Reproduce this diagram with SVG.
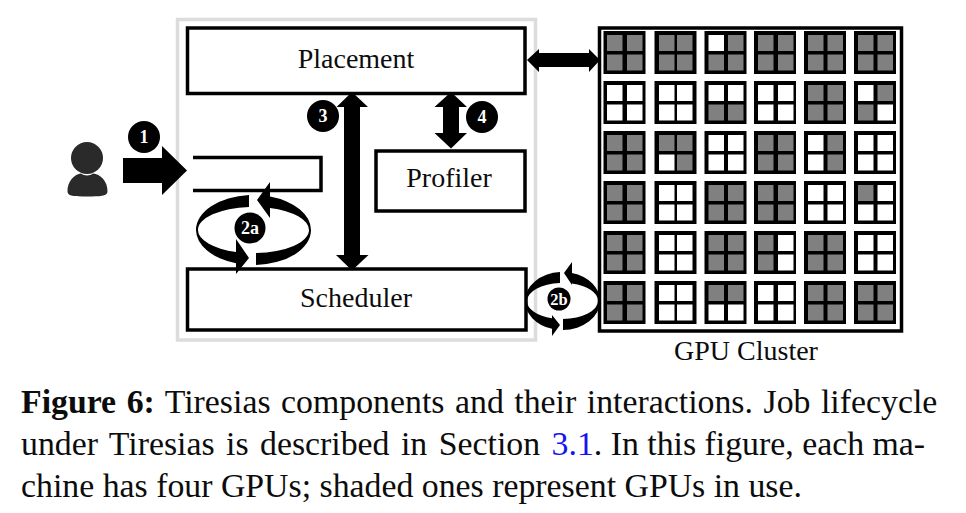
<svg xmlns="http://www.w3.org/2000/svg" width="966" height="513" viewBox="0 0 966 513">
<style>
text{font-family:"Liberation Serif","Times New Roman",serif;fill:#0c0c0c}
.box{fill:#fff;stroke:#000;stroke-width:3.5}
.lbl{font-size:28px;text-anchor:middle}
.cap{font-size:33.8px}
.bt{font-size:18px;font-weight:bold;fill:#fff;text-anchor:middle}
</style>
<defs>
<rect id="b" width="42" height="43" fill="#000"/>
<rect id="G" width="15.500" height="16" fill="#808080"/>
<rect id="W" width="15.500" height="16" fill="#fff"/>
</defs>
<rect width="966" height="513" fill="#fff"/>
<rect x="177.500" y="19.500" width="358" height="320.500" fill="#fff" stroke="#dcdcdc" stroke-width="3.500"/>
<g id="placement"><rect class="box" x="187.500" y="28" width="337.500" height="65.500"/><text class="lbl" x="356" y="68">Placement</text></g>
<g id="profiler"><rect class="box" x="376" y="151" width="149" height="60"/><text class="lbl" x="449" y="187">Profiler</text></g>
<g id="scheduler"><rect class="box" x="187.500" y="269" width="338.500" height="61"/><text class="lbl" x="356" y="307">Scheduler</text></g>
<g id="queue"><path d="M193,157.500H321V190.500H193" fill="none" stroke="#000" stroke-width="3.500"/></g>
<g id="user" fill="#2a2a2a"><circle cx="87" cy="158" r="16"/><path d="M67.500,192C67,181 75,174 81,173.500C84,176 90,176 93,173.500C100,174 108,181 107.500,192C107,196 100,196.500 87,196.500C74,196.500 68,196 67.500,192Z"/></g>
<g id="connectors" fill="#000">
<path d="M123,158H162V146L187,170.500L162,195V183H123Z"/>
<path d="M352,92L368,107H360V255H368.500L352,270.500L336,255H344V107H336.500Z"/>
<path d="M451,92L467,107H459V133H467L451,148.500L434.500,133H443V107H434.500Z"/>
<path d="M527,60L539,49V53H589V49L600,60L589,72V67H539V72Z"/>
<path d="M249,195A58,35 0 0 0 196,230A58,35 0 0 0 236,263.300L236,274L249,258L236,239L236,252A55.500,23 0 0 1 198,230A55.500,23 0 0 1 249,207Z"/>
<path d="M256,265A58,35 0 0 0 311,230A58,35 0 0 0 270,196.500L270,182L257,200L270,218L270,208A55.500,23 0 0 1 309,230A55.500,23 0 0 1 256,253Z"/>
<path d="M560,272A37.500,29 0 0 0 525,301A37.500,29 0 0 0 552,328.800L552,336L560,325L552,315L552,318.300A36,18 0 0 1 527,301A36,18 0 0 1 560,283Z"/>
<path d="M563,330A37.500,29 0 0 0 600,301A37.500,29 0 0 0 572,273L572,262L564,273L572,285L572,283.600A36,18 0 0 1 598,301A36,18 0 0 1 563,319Z"/>
</g>
<g id="badge-1"><circle cx="144" cy="137" r="16"/><text class="bt" x="144" y="143">1</text></g>
<g id="badge-3"><circle cx="323" cy="116" r="16"/><text class="bt" x="323" y="122">3</text></g>
<g id="badge-4"><circle cx="482" cy="117" r="16"/><text class="bt" x="482" y="123">4</text></g>
<g id="badge-2a"><circle cx="250" cy="228" r="15.500"/><text class="bt" x="250" y="234">2a</text></g>
<g id="badge-2b"><circle cx="559" cy="299" r="11.500"/><text class="bt" x="559" y="304.500" style="font-size:16.500px">2b</text></g>
<g id="gpu-cluster">
<rect x="599.500" y="28" width="302" height="303" fill="#fff" stroke="#000" stroke-width="3.500"/>
<g id="row-1" transform="translate(0,31)">
<g transform="translate(603.500,0)"><use href="#b"/><use href="#G" x="3.500" y="4"/><use href="#G" x="23.500" y="4"/><use href="#G" x="3.500" y="23.500"/><use href="#G" x="23.500" y="23.500"/></g>
<g transform="translate(654.500,0)"><use href="#b"/><use href="#G" x="4.500" y="4"/><use href="#G" x="22.500" y="4"/><use href="#G" x="4.500" y="23.500"/><use href="#G" x="22.500" y="23.500"/></g>
<g transform="translate(704.500,0)"><use href="#b"/><use href="#W" x="4" y="4"/><use href="#G" x="23.500" y="4"/><use href="#G" x="4" y="23.500"/><use href="#G" x="23.500" y="23.500"/></g>
<g transform="translate(754,0)"><use href="#b"/><use href="#G" x="4" y="4"/><use href="#G" x="24" y="4"/><use href="#G" x="4" y="23.500"/><use href="#G" x="24" y="23.500"/></g>
<g transform="translate(804,0)"><use href="#b"/><use href="#G" x="4" y="4"/><use href="#G" x="23.500" y="4"/><use href="#G" x="4" y="23.500"/><use href="#G" x="23.500" y="23.500"/></g>
<g transform="translate(854,0)"><use href="#b"/><use href="#G" x="4" y="4"/><use href="#G" x="23.500" y="4"/><use href="#G" x="4" y="23.500"/><use href="#G" x="23.500" y="23.500"/></g>
</g>
<g id="row-2" transform="translate(0,81)">
<g transform="translate(603.500,0)"><use href="#b"/><use href="#W" x="3.500" y="4"/><use href="#W" x="23.500" y="4"/><use href="#W" x="3.500" y="23.500"/><use href="#W" x="23.500" y="23.500"/></g>
<g transform="translate(654.500,0)"><use href="#b"/><use href="#W" x="4.500" y="4"/><use href="#W" x="22.500" y="4"/><use href="#W" x="4.500" y="23.500"/><use href="#W" x="22.500" y="23.500"/></g>
<g transform="translate(704.500,0)"><use href="#b"/><use href="#W" x="4" y="4"/><use href="#W" x="23.500" y="4"/><use href="#G" x="4" y="23.500"/><use href="#G" x="23.500" y="23.500"/></g>
<g transform="translate(754,0)"><use href="#b"/><use href="#W" x="4" y="4"/><use href="#W" x="24" y="4"/><use href="#W" x="4" y="23.500"/><use href="#W" x="24" y="23.500"/></g>
<g transform="translate(804,0)"><use href="#b"/><use href="#G" x="4" y="4"/><use href="#G" x="23.500" y="4"/><use href="#G" x="4" y="23.500"/><use href="#G" x="23.500" y="23.500"/></g>
<g transform="translate(854,0)"><use href="#b"/><use href="#W" x="4" y="4"/><use href="#G" x="23.500" y="4"/><use href="#G" x="4" y="23.500"/><use href="#W" x="23.500" y="23.500"/></g>
</g>
<g id="row-3" transform="translate(0,131)">
<g transform="translate(603.500,0)"><use href="#b"/><use href="#G" x="3.500" y="4"/><use href="#G" x="23.500" y="4"/><use href="#G" x="3.500" y="23.500"/><use href="#G" x="23.500" y="23.500"/></g>
<g transform="translate(654.500,0)"><use href="#b"/><use href="#G" x="4.500" y="4"/><use href="#G" x="22.500" y="4"/><use href="#W" x="4.500" y="23.500"/><use href="#G" x="22.500" y="23.500"/></g>
<g transform="translate(704.500,0)"><use href="#b"/><use href="#W" x="4" y="4"/><use href="#W" x="23.500" y="4"/><use href="#W" x="4" y="23.500"/><use href="#W" x="23.500" y="23.500"/></g>
<g transform="translate(754,0)"><use href="#b"/><use href="#G" x="4" y="4"/><use href="#G" x="24" y="4"/><use href="#G" x="4" y="23.500"/><use href="#G" x="24" y="23.500"/></g>
<g transform="translate(804,0)"><use href="#b"/><use href="#W" x="4" y="4"/><use href="#G" x="23.500" y="4"/><use href="#W" x="4" y="23.500"/><use href="#G" x="23.500" y="23.500"/></g>
<g transform="translate(854,0)"><use href="#b"/><use href="#W" x="4" y="4"/><use href="#W" x="23.500" y="4"/><use href="#W" x="4" y="23.500"/><use href="#W" x="23.500" y="23.500"/></g>
</g>
<g id="row-4" transform="translate(0,181)">
<g transform="translate(603.500,0)"><use href="#b"/><use href="#G" x="3.500" y="4"/><use href="#G" x="23.500" y="4"/><use href="#G" x="3.500" y="23.500"/><use href="#G" x="23.500" y="23.500"/></g>
<g transform="translate(654.500,0)"><use href="#b"/><use href="#W" x="4.500" y="4"/><use href="#W" x="22.500" y="4"/><use href="#W" x="4.500" y="23.500"/><use href="#W" x="22.500" y="23.500"/></g>
<g transform="translate(704.500,0)"><use href="#b"/><use href="#G" x="4" y="4"/><use href="#G" x="23.500" y="4"/><use href="#G" x="4" y="23.500"/><use href="#G" x="23.500" y="23.500"/></g>
<g transform="translate(754,0)"><use href="#b"/><use href="#G" x="4" y="4"/><use href="#G" x="24" y="4"/><use href="#G" x="4" y="23.500"/><use href="#G" x="24" y="23.500"/></g>
<g transform="translate(804,0)"><use href="#b"/><use href="#W" x="4" y="4"/><use href="#W" x="23.500" y="4"/><use href="#W" x="4" y="23.500"/><use href="#W" x="23.500" y="23.500"/></g>
<g transform="translate(854,0)"><use href="#b"/><use href="#G" x="4" y="4"/><use href="#W" x="23.500" y="4"/><use href="#W" x="4" y="23.500"/><use href="#W" x="23.500" y="23.500"/></g>
</g>
<g id="row-5" transform="translate(0,231)">
<g transform="translate(603.500,0)"><use href="#b"/><use href="#G" x="3.500" y="4"/><use href="#G" x="23.500" y="4"/><use href="#G" x="3.500" y="23.500"/><use href="#G" x="23.500" y="23.500"/></g>
<g transform="translate(654.500,0)"><use href="#b"/><use href="#W" x="4.500" y="4"/><use href="#W" x="22.500" y="4"/><use href="#W" x="4.500" y="23.500"/><use href="#W" x="22.500" y="23.500"/></g>
<g transform="translate(704.500,0)"><use href="#b"/><use href="#G" x="4" y="4"/><use href="#G" x="23.500" y="4"/><use href="#G" x="4" y="23.500"/><use href="#G" x="23.500" y="23.500"/></g>
<g transform="translate(754,0)"><use href="#b"/><use href="#G" x="4" y="4"/><use href="#W" x="24" y="4"/><use href="#G" x="4" y="23.500"/><use href="#W" x="24" y="23.500"/></g>
<g transform="translate(804,0)"><use href="#b"/><use href="#G" x="4" y="4"/><use href="#G" x="23.500" y="4"/><use href="#G" x="4" y="23.500"/><use href="#G" x="23.500" y="23.500"/></g>
<g transform="translate(854,0)"><use href="#b"/><use href="#W" x="4" y="4"/><use href="#W" x="23.500" y="4"/><use href="#W" x="4" y="23.500"/><use href="#W" x="23.500" y="23.500"/></g>
</g>
<g id="row-6" transform="translate(0,281)">
<g transform="translate(603.500,0)"><use href="#b"/><use href="#G" x="3.500" y="4"/><use href="#G" x="23.500" y="4"/><use href="#G" x="3.500" y="23.500"/><use href="#G" x="23.500" y="23.500"/></g>
<g transform="translate(654.500,0)"><use href="#b"/><use href="#W" x="4.500" y="4"/><use href="#W" x="22.500" y="4"/><use href="#W" x="4.500" y="23.500"/><use href="#W" x="22.500" y="23.500"/></g>
<g transform="translate(704.500,0)"><use href="#b"/><use href="#G" x="4" y="4"/><use href="#G" x="23.500" y="4"/><use href="#W" x="4" y="23.500"/><use href="#W" x="23.500" y="23.500"/></g>
<g transform="translate(754,0)"><use href="#b"/><use href="#W" x="4" y="4"/><use href="#W" x="24" y="4"/><use href="#W" x="4" y="23.500"/><use href="#W" x="24" y="23.500"/></g>
<g transform="translate(804,0)"><use href="#b"/><use href="#G" x="4" y="4"/><use href="#G" x="23.500" y="4"/><use href="#G" x="4" y="23.500"/><use href="#G" x="23.500" y="23.500"/></g>
<g transform="translate(854,0)"><use href="#b"/><use href="#G" x="4" y="4"/><use href="#G" x="23.500" y="4"/><use href="#G" x="4" y="23.500"/><use href="#G" x="23.500" y="23.500"/></g>
</g>
<text class="lbl" x="746" y="360">GPU Cluster</text>
</g>
<g id="caption">
<text class="cap" x="21" y="413" word-spacing="2.100"><tspan font-weight="bold">Figure 6:</tspan> Tiresias components and their interactions. Job lifecycle</text>
<text class="cap" x="21" y="455"><tspan word-spacing="3">under Tiresias is described in Section </tspan><tspan fill="#1515f0">3.1</tspan><tspan>. In this figure, each ma-</tspan></text>
<text class="cap" x="21" y="497">chine has four GPUs; shaded ones represent GPUs in use.</text>
</g>
</svg>
